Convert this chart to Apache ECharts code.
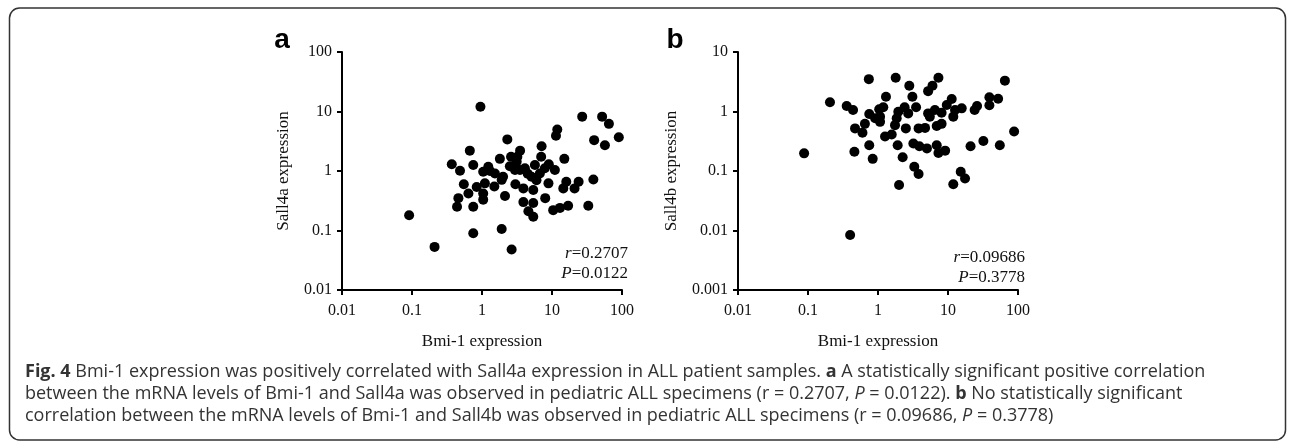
<!DOCTYPE html>
<html>
<head>
<meta charset="utf-8">
<title>Fig. 4</title>
<script src="https://cdn.jsdelivr.net/npm/echarts@6/dist/echarts.min.js"></script>
<style>
    body { margin: 0; background: #fff; }
    #fig { width: 1293px; height: 442px; }
</style>
</head>
<body>
<div id="fig"></div>
<script>
//==================== 数据 ====================
// a: Bmi-1 vs Sall4a
var aBmi = [0.95, 27, 52, 65, 90, 40, 57, 11.9, 11.4, 7.1, 2.3, 0.67, 3.5, 2.6, 3.2, 1.8, 7, 15, 0.37,
    0.485, 0.75, 1.23, 1.04, 1.53, 1.91, 3.13, 3.49, 2.96, 4.1, 5.7, 7.9, 6.7, 11, 5.1, 8.9, 16, 24,
    14.5, 21, 39, 0.84, 1.1, 0.64, 0.46, 0.44, 0.75, 1.04, 1.04, 2.13, 3.9, 5.4, 3.9, 5.4, 4.6, 5.4,
    10.4, 13, 17, 33, 0.75, 1.91, 0.21, 2.65, 0.091,
    1.3, 2.0, 2.5, 4.5, 6, 9, 0.55, 1.5, 8, 3];
var aSall4a = [12, 8.2, 8.2, 6.2, 3.7, 3.3, 2.7, 5.0, 3.9, 2.6, 3.4, 2.2, 2.2, 1.74, 1.74, 1.6, 1.74, 1.6, 1.3,
    1.01, 1.26, 1.18, 0.97, 0.91, 0.71, 1.43, 1.04, 1.04, 1.11, 1.26, 1.11, 0.91, 1.04, 0.80, 0.62, 0.66, 0.66,
    0.51, 0.51, 0.72, 0.54, 0.62, 0.42, 0.35, 0.25, 0.25, 0.33, 0.42, 0.38, 0.51, 0.48, 0.30, 0.29, 0.21, 0.17,
    0.22, 0.24, 0.26, 0.26, 0.09, 0.106, 0.053, 0.048, 0.18,
    1.0, 0.8, 1.2, 0.9, 0.7, 1.3, 0.6, 0.55, 0.35, 0.6];

// b: Bmi-1 vs Sall4b
var bBmi = [0.088, 0.206, 0.357, 0.40, 0.74, 1.79, 2.8, 7.3, 6.0, 5.2, 65, 1.3, 3.1, 0.44, 0.75, 1.04,
    1.19, 1.07, 0.91, 0.65, 1.07, 1.95, 2.4, 2.7, 3.5, 1.85, 1.75, 2.5, 5.2, 6.5, 8.1, 5.5, 9.6, 11.3,
    12.6, 15.7, 11.9, 6.9, 8.1, 3.8, 4.7, 0.47, 0.60, 1.26, 1.57, 24, 26, 39, 52, 39, 88, 32, 21, 55,
    0.46, 0.75, 1.91, 3.2, 3.9, 5.0, 6.9, 7.3, 9.1, 0.84, 2.25, 3.3, 3.8, 2.0, 11.9, 15.2, 17.5];
var bSall4b = [0.198, 1.43, 1.24, 0.0084, 3.5, 3.7, 2.7, 3.7, 2.7, 2.2, 3.3, 1.77, 1.77, 1.06, 0.91, 1.09,
    1.18, 0.82, 0.77, 0.62, 0.67, 0.99, 1.18, 0.93, 1.18, 0.77, 0.59, 0.52, 0.93, 1.06, 0.95, 0.82, 1.29, 1.62,
    1.06, 1.13, 0.82, 0.57, 0.62, 0.52, 0.53, 0.52, 0.44, 0.38, 0.41, 1.06, 1.24, 1.73, 1.64, 1.27, 0.46, 0.32, 0.26, 0.27,
    0.21, 0.27, 0.27, 0.29, 0.26, 0.24, 0.27, 0.20, 0.22, 0.16, 0.17, 0.118, 0.089, 0.058, 0.060, 0.097, 0.075];

var xTicks = [0.01, 0.1, 1, 10, 100];
var aYTicks = [0.01, 0.1, 1, 10, 100];
var bYTicks = [0.001, 0.01, 0.1, 1, 10];

//==================== 工具 ====================
function pairs(xs, ys) {
    var out = [];
    for (var i = 0; i < xs.length; i++) {
        out.push([xs[i], ys[i]]);
    }
    return out;
}

function tickText(v) {
    return String(parseFloat(Number(v).toPrecision(6)));
}

var serif = "'Liberation Serif', 'Times New Roman', serif";
var sans = "'Open Sans', 'Noto Sans', sans-serif";
var capSize = 18;

function logX(idx, ticks) {
    return {
        type: 'log', logBase: 10, gridIndex: idx,
        min: ticks[0], max: ticks[ticks.length - 1],
        name: 'Bmi-1 expression', nameLocation: 'middle', nameGap: 43,
        nameTextStyle: { fontFamily: serif, fontSize: 17, color: '#111' },
        axisLine: { lineStyle: { color: '#000', width: 2 } },
        axisTick: { length: 5, lineStyle: { color: '#000', width: 2 } },
        minorTick: { show: false },
        splitLine: { show: false },
        axisLabel: { fontFamily: serif, fontSize: 16, color: '#111', margin: 13, formatter: tickText }
    };
}

function logY(idx, ticks, name, gap) {
    return {
        type: 'log', logBase: 10, gridIndex: idx,
        min: ticks[0], max: ticks[ticks.length - 1],
        name: name, nameLocation: 'middle', nameGap: gap, nameRotate: 90,
        nameTextStyle: { fontFamily: serif, fontSize: 17, color: '#111' },
        axisLine: { lineStyle: { color: '#000', width: 2 } },
        axisTick: { length: 5, lineStyle: { color: '#000', width: 2 } },
        minorTick: { show: false },
        splitLine: { show: false },
        axisLabel: { fontFamily: serif, fontSize: 16, color: '#111', margin: 10, formatter: tickText }
    };
}

function statText(x, y, r, p) {
    var rich = { i: { fontStyle: 'italic', fontFamily: serif, fontSize: 17, color: '#111' } };
    return [{
        type: 'text', x: x, y: y,
        style: { text: '{i|r}=' + r, align: 'right', verticalAlign: 'middle', font: '17px ' + serif, fill: '#111', rich: rich }
    }, {
        type: 'text', x: x, y: y + 20,
        style: { text: '{i|P}=' + p, align: 'right', verticalAlign: 'middle', font: '17px ' + serif, fill: '#111', rich: rich }
    }];
}

function captionLine(y, txt) {
    return {
        type: 'text', x: 25, y: y,
        style: {
            text: txt, verticalAlign: 'middle',
            font: capSize + 'px ' + sans, fill: '#333',
            rich: {
                b: { fontWeight: 'bold', fontFamily: sans, fontSize: capSize, color: '#333' },
                i: { fontStyle: 'italic', fontFamily: sans, fontSize: capSize, color: '#333' }
            }
        }
    };
}

//==================== 图 ====================
var chart = echarts.init(document.getElementById('fig'), null, { renderer: 'canvas' });

var graphics = [
    {
        type: 'rect', shape: { x: 9.5, y: 8, width: 1276, height: 432, r: 10 },
        style: { fill: 'none', stroke: '#333', lineWidth: 1.5 }
    },
    { type: 'text', x: 282, y: 40, style: { text: 'a', font: 'bold 28px Liberation Sans, Arial, sans-serif', fill: '#000', align: 'center', verticalAlign: 'middle' } },
    { type: 'text', x: 675, y: 40, style: { text: 'b', font: 'bold 28px Liberation Sans, Arial, sans-serif', fill: '#000', align: 'center', verticalAlign: 'middle' } },
    captionLine(372, '{b|Fig. 4} Bmi-1 expression was positively correlated with Sall4a expression in ALL patient samples. {b|a} A statistically significant positive correlation'),
    captionLine(394, 'between the mRNA levels of Bmi-1 and Sall4a was observed in pediatric ALL specimens (r = 0.2707, {i|P} = 0.0122). {b|b} No statistically significant'),
    captionLine(416, 'correlation between the mRNA levels of Bmi-1 and Sall4b was observed in pediatric ALL specimens (r = 0.09686, {i|P} = 0.3778)')
];
graphics = graphics.concat(statText(628, 254, '0.2707', '0.0122'));
graphics = graphics.concat(statText(1025, 258, '0.09686', '0.3778'));

var option = {
    backgroundColor: '#fff',
    animation: false,
    grid: [
        { left: 342, top: 52, width: 280, height: 238 },
        { left: 738, top: 52, width: 280, height: 238 }
    ],
    xAxis: [logX(0, xTicks), logX(1, xTicks)],
    yAxis: [
        logY(0, aYTicks, 'Sall4a expression', 50),
        logY(1, bYTicks, 'Sall4b expression', 58)
    ],
    series: [
        {
            name: 'a', type: 'scatter', xAxisIndex: 0, yAxisIndex: 0,
            symbol: 'circle', symbolSize: 10,
            itemStyle: { color: '#000', opacity: 1 },
            data: pairs(aBmi, aSall4a)
        },
        {
            name: 'b', type: 'scatter', xAxisIndex: 1, yAxisIndex: 1,
            symbol: 'circle', symbolSize: 10,
            itemStyle: { color: '#000', opacity: 1 },
            data: pairs(bBmi, bSall4b)
        }
    ],
    graphic: graphics
};
chart.setOption(option);
</script>
</body>
</html>
